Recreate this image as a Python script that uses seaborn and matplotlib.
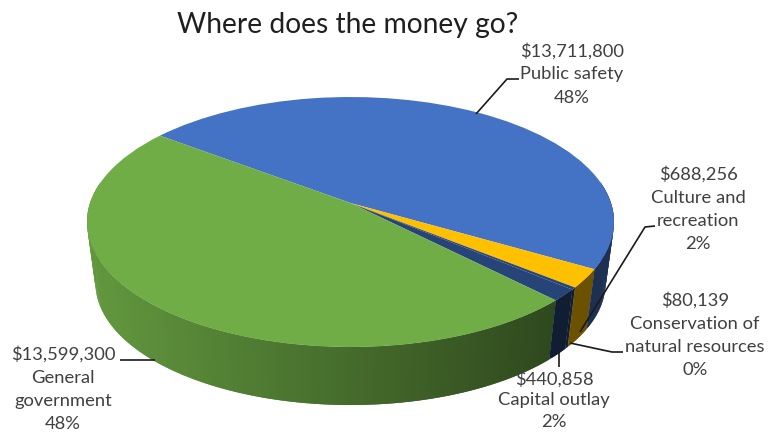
import numpy as np
import matplotlib
matplotlib.use("Agg")
import matplotlib.pyplot as plt
from matplotlib.transforms import Transform
import seaborn as sns

names = ["Public safety", "Culture and\nrecreation", "Conservation of\nnatural resources",
         "Capital outlay", "General\ngovernment"]
values = [13711800, 688256, 80139, 440858, 13599300]
colors = ["#4472C4", "#FFC000", "#264478", "#264478", "#70AD47"]
title = "Where does the money go?"

sns.set_theme(style="white")
plt.rcParams["font.family"] = ["Lato", "DejaVu Sans"]

# pie geometry in canvas pixels
START = 143
CX, CY_TOP, RX, RY = 350.5, 222, 263.5, 125
CY_BOT, RX_B, RY_B = 283, 255, 122
K = 0.152


class Tilt(Transform):
    """Perspective view of the unit disc."""
    input_dims = output_dims = 2

    def __init__(self, cx, cy, rx, ry):
        super().__init__()
        self.p = (cx, cy, rx * np.sqrt(1 - K ** 2), ry)

    def transform_non_affine(self, xy):
        cx, cy, a, b = self.p
        xy = np.asarray(xy, float)
        w = 1 + K * xy[:, 1]
        return np.column_stack([cx + a * xy[:, 0] / w,
                                cy - b * (xy[:, 1] + K) / w])


fig = plt.figure(figsize=(7.78, 4.34), dpi=100)
ax = fig.add_axes([0, 0, 1, 1])

wedges, _ = ax.pie(values, colors=colors, startangle=START, counterclock=False,
                   wedgeprops={"linewidth": 0})
ax.set_aspect("auto")
ax.set_xlim(0, 778)
ax.set_ylim(434, 0)
ax.axis("off")

top = Tilt(CX, CY_TOP, RX, RY)
bot = Tilt(CX, CY_BOT, RX_B, RY_B)
for w in wedges:
    w.set_transform(top + ax.transData)
    w.set_clip_on(False)
    w.set_zorder(3)

# side wall, shaded left to right; strips overlap so no seams show
edges = START - np.cumsum([0] + values) / sum(values) * 360
order = sorted(zip(edges[:-1], edges[1:], colors), key=lambda s: s[1])
for hi, lo, col in order:
    lo2, hi2 = max(lo, -190), min(hi, 10)
    if hi2 <= lo2:
        continue
    base = np.array(matplotlib.colors.to_rgb(col))
    th = np.radians(np.unique(np.append(np.arange(lo2, hi2, 0.75), hi2)))
    unit = np.column_stack([np.cos(th), np.sin(th)])
    pt, pb = top.transform(unit), bot.transform(unit)
    for i in range(len(th) - 1):
        j = min(i + 3, len(th))
        xm = (pt[i, 0] + pt[i + 1, 0]) / 2
        shade = max(0.42, 0.87 - 0.45 * (xm - 95) / 460)
        ax.fill(np.r_[pt[i:j, 0], pb[i:j, 0][::-1]],
                np.r_[pt[i:j, 1], pb[i:j, 1][::-1]],
                color=base * shade, lw=0, zorder=2)

# labels
label_x = [572, 698, 695, 554, 63]
label_y = [74, 209, 335, 400, 389]
label_spacing = [1.55, 1.55, 1.55, 1.4, 1.55]
pcts = [round(v / sum(values) * 100) for v in values]
for n, v, p, x, y, s in zip(names, values, pcts, label_x, label_y, label_spacing):
    ax.text(x, y, f"${v:,}\n{n}\n{p}%", ha="center", va="center", ma="center",
            fontsize=13.2, color="#404040", linespacing=s, zorder=5)

leaders = [
    ([476, 507, 519], [114, 79, 79]),
    ([580, 645, 655], [332, 227, 226]),
    ([570, 612, 623], [343, 352, 352]),
    ([559, 559], [352, 367]),
    ([120, 155], [360, 360]),
]
for lx, ly in leaders:
    ax.plot(lx, ly, color="#1a1a1a", lw=1.2, zorder=4, solid_capstyle="butt")

ax.text(348, 25, title, ha="center", va="center", fontsize=20.3, color="#1f1f1f", zorder=5)

fig.savefig("out.png", dpi=100, facecolor="white")
